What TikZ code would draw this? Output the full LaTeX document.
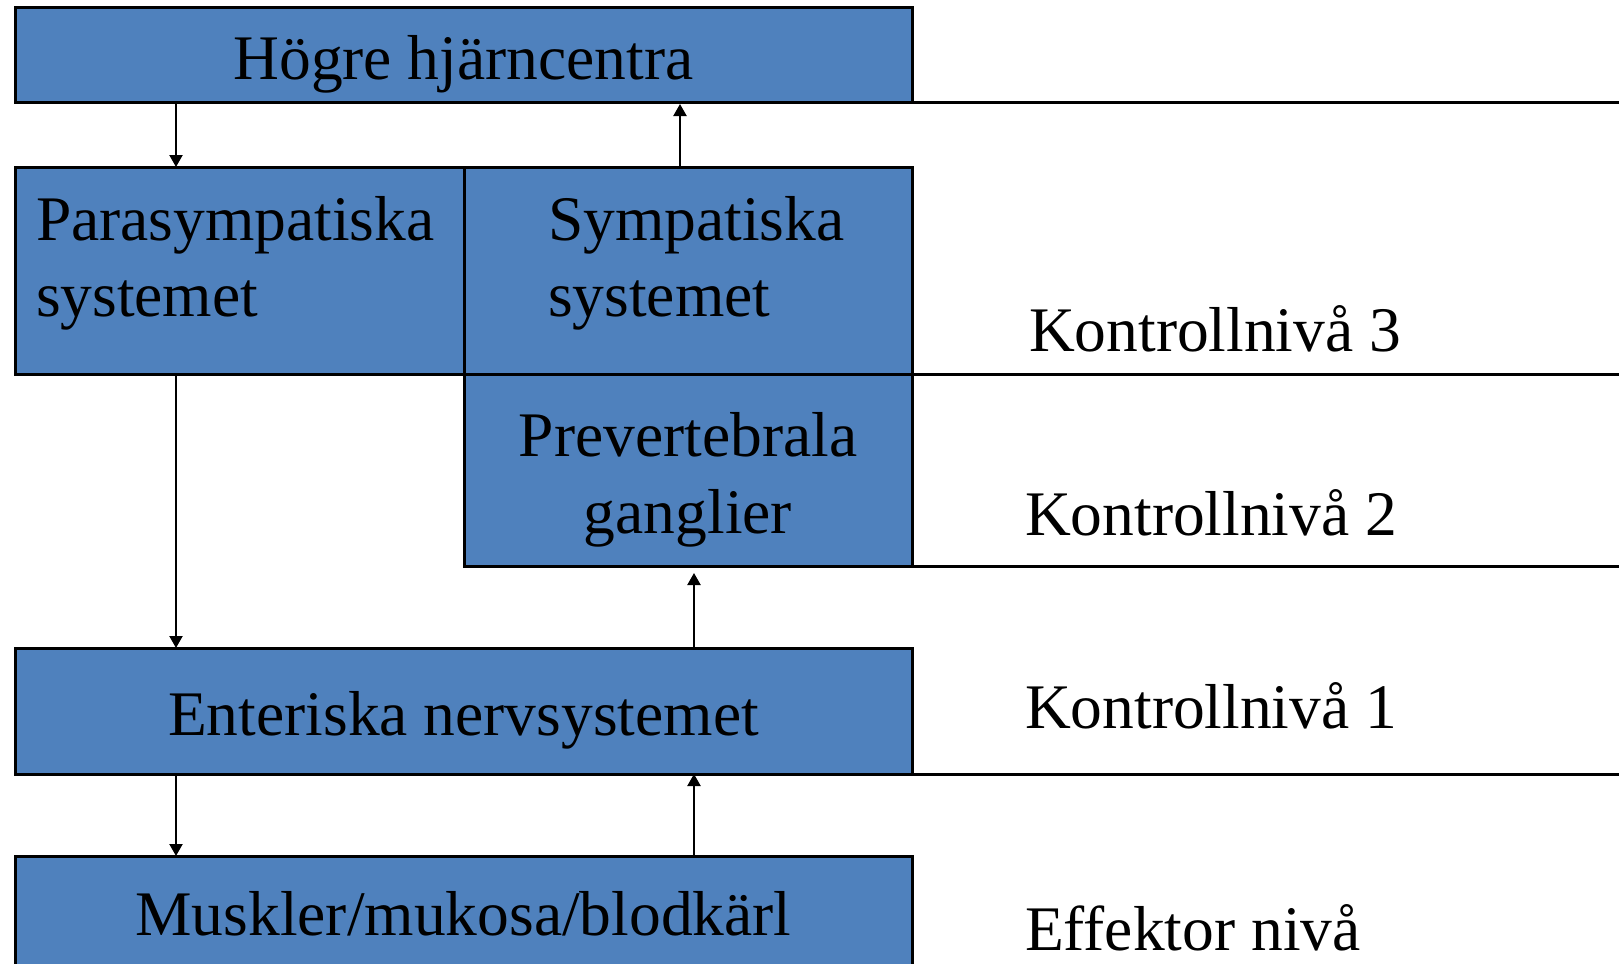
\documentclass[tikz,border=0pt]{standalone}
\usepackage{fontspec}
\setmainfont{Liberation Serif}
\usetikzlibrary{arrows.meta}
\definecolor{boxblue}{HTML}{4F81BD}
\begin{document}
\begin{tikzpicture}[x=0.5pt,y=-0.5pt,
  box/.style={draw=black, fill=boxblue, line width=1.5pt, rectangle, inner sep=0pt, outer sep=0pt, anchor=north west},
  lbl/.style={inner sep=0pt, outer sep=0pt, font=\fontsize{31.75}{38}\selectfont},
  arr/.style={line width=1.1pt, -{Triangle[width=6.5pt,length=6pt]}},
  rule/.style={line width=1.5pt}]
\useasboundingbox (0,0) rectangle (1619,964);
\begin{scope}
\clip (0,0) rectangle (1619,964);
% boxes
\node[box, minimum width=448.5pt, minimum height=47.5pt] (top) at (15,7) {};
\node[box, minimum width=224.5pt, minimum height=103.5pt] (para) at (15,167) {};
\node[box, minimum width=224pt, minimum height=103.5pt] (symp) at (464,167) {};
\node[box, minimum width=224pt, minimum height=96pt] (prev) at (464,374) {};
\node[box, minimum width=448.5pt, minimum height=63pt] (ent) at (15,648) {};
\node[box, minimum width=448.5pt, minimum height=67pt] (musk) at (15,856) {};
% right rules
\coordinate (rend) at (1619,0);
\draw[rule] (top.south east) -- (top.south east -| rend);
\draw[rule] (symp.south east) -- (symp.south east -| rend);
\draw[rule] (prev.south east) -- (prev.south east -| rend);
\draw[rule] (ent.south east) -- (ent.south east -| rend);
% arrows
\coordinate (xl) at (176,0);
\coordinate (xs) at (680,0);
\coordinate (xr) at (694,0);
\draw[arr] (xl |- top.south) -- (xl |- para.north);
\draw[arr, shorten >=1pt] (xs |- symp.north) -- (xs |- top.south);
\draw[arr] (xl |- para.south) -- (xl |- ent.north);
\draw[arr, shorten >=3.5pt] (xr |- ent.north) -- (xr |- prev.south);
\draw[arr] (xl |- ent.south) -- (xl |- musk.north);
\draw[arr] (xr |- musk.north) -- (xr |- ent.south);
% texts
\node[lbl, anchor=base] (ttop) at (463.5,79.5) {Högre hjärncentra};
\node[lbl, anchor=base west] (tpara1) at (36,240) {Parasympatiska};
\node[lbl, anchor=base west] (tpara2) at (36,316) {systemet};
\node[lbl, anchor=base west] (tsymp1) at (548,240) {Sympatiska};
\node[lbl, anchor=base west] (tsymp2) at (548,316) {systemet};
\node[lbl, anchor=base] (tprev1) at (688,456) {Prevertebrala};
\node[lbl, anchor=base] (tprev2) at (688,533) {ganglier};
\node[lbl, anchor=base] (tent) at (463.5,735) {Enteriska nervsystemet};
\node[lbl, anchor=base] (tmusk) at (463.5,935) {Muskler/mukosa/blodkärl};
\node[lbl, anchor=base west] (k3) at (1029,351) {Kontrollnivå 3};
\node[lbl, anchor=base west] (k2) at (1025,535) {Kontrollnivå 2};
\node[lbl, anchor=base west] (k1) at (1025,728) {Kontrollnivå 1};
\node[lbl, anchor=base west] (eff) at (1025,950) {Effektor nivå};
\end{scope}
\end{tikzpicture}
\end{document}
